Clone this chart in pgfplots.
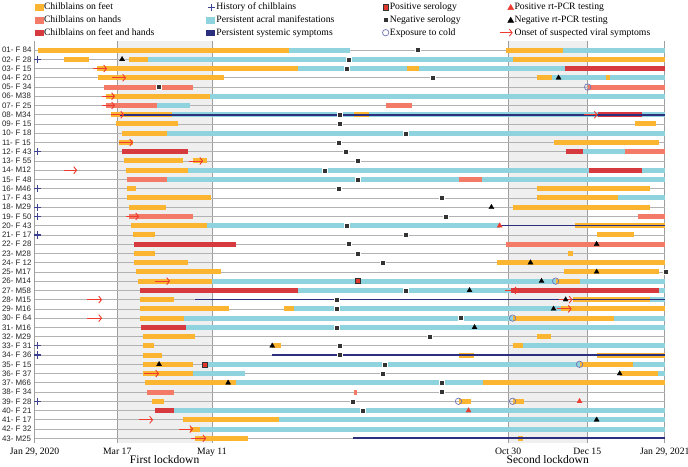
\documentclass[border=0pt]{standalone}
\usepackage{pgfplots}
\usepackage{pgfplotstable}
\pgfplotsset{compat=1.18}
\usepackage{fontspec}
\setmainfont{Liberation Serif}
\newfontfamily\rowfont{Liberation Sans}
\usetikzlibrary{arrows.meta}

\definecolor{cfeet}{HTML}{FBB531}
\definecolor{chands}{HTML}{F37A66}
\definecolor{cboth}{HTML}{D63A3E}
\definecolor{cacral}{HTML}{8FD3DE}
\definecolor{csys}{HTML}{2B2F7E}
\definecolor{cplus}{HTML}{3C4192}
\definecolor{cneg}{HTML}{333333}
\definecolor{cpos}{HTML}{E03A2E}
\definecolor{ccirc}{HTML}{7074B5}
\definecolor{carrow}{HTML}{EE3B2F}
\definecolor{cshade}{HTML}{EFEFEF}

% segments: start day, end day, row
\pgfplotstableread{
a b r
2 148 1
273.6 306.6 1
17.1 31.6 2
54.9 65.9 2
277.6 366 2
36.3 153.1 3
216.5 223.5 3
36.9 110.1 4
291.5 300.2 4
331.6 334 4
41.5 102 6
44.4 79.9 8
185.7 194.4 8
47.3 83.4 9
348.5 360.8 9
50.8 77 10
49.1 57.2 11
301.4 362.6 11
52 86.3 13
92.1 100.2 13
53.1 89.2 14
53.7 59 16
291.5 357.2 16
53.7 102.6 17
291.5 338.6 17
54.9 76.4 18
277.6 357.2 18
56 100.2 20
313.6 366 20
57.2 70 21
326.4 347.9 21
57.8 70 23
309.5 312.4 23
57.8 89.2 24
268.3 366 24
59 108.4 25
307.2 362.6 25
60.1 103.1 26
302.6 316.5 26
61.3 81 28
312.4 357.2 28
61.3 113 29
145 150.8 29
305.5 366 29
61.3 86.9 30
277.6 336.3 30
63 93.3 32
291.5 299.7 32
63 69.4 33
138 143.3 33
277.6 283.4 33
63 74.1 34
246.2 254.9 34
326.4 366 34
63 92.1 35
316.5 347.3 35
63 92.1 36
339.8 361.9 36
64.2 117.1 37
260.7 366 37
68.3 75.2 39
246.2 253.7 39
277.6 284.5 39
86.3 142.1 41
90.3 96.2 42
93.3 124.1 43
281 283.4 43
}\feet

\pgfplotstableread{
a b r
40.3 92.1 5
321.2 366 5
41.5 71.2 7
204.3 219.4 7
342.7 366 12
53.7 77 15
246.7 260.1 15
54.9 92.1 19
350.2 366 19
273.6 366 22
65.3 81 38
185.5 187.5 38
}\hands

\pgfplotstableread{
a b r
307.8 366 3
327 352.6 8
50.8 89.2 12
308.4 318.3 12
321.7 352.6 14
57.8 117.1 22
61.3 153.1 27
276.4 362.6 27
61.9 88 31
70 81 40
}\both

\pgfplotstableread{
a b r
148 183.4 1
306.6 366 1
65.9 277.6 2
153.1 216.5 3
223.5 307.8 3
300.2 331.6 4
334 366 4
102 366 6
71.2 90.3 7
79.9 185.7 8
194.4 327 8
352.6 366 8
77 366 10
318.3 342.7 12
89.2 321.7 14
352.6 366 14
77 246.7 15
260.1 366 15
338.6 366 17
100.2 270.1 20
103.1 302.6 26
316.5 366 26
153.1 276.4 27
362.6 366 27
357.2 366 28
150.8 305.5 29
86.9 277.6 30
336.3 366 30
88 366 31
283.4 366 33
97.3 316.5 35
347.3 366 35
92.1 122.3 36
361.9 366 36
117.1 260.7 37
81 366 40
142.1 366 41
96.2 366 42
}\acral

\pgfplotstableread{
a b r
49.7 366 8
270.1 366 20
93.3 366 28
138 366 34
185.1 366 43
}\systemic

\pgfplotstableread{
x r
1.8 2
1.8 12
1.8 16
1.8 18
1.8 19
1.8 21
1.8 33
1.8 34
1.8 39
}\history

\pgfplotstableread{
x r
222.3 1
182.2 2
181 3
231 4
72.3 5
177 8
177 9
215.3 10
176.4 11
180.5 12
187.4 13
168.3 14
187.4 15
176.4 16
236.3 17
238.6 19
181 20
215.3 21
182.2 22
187.4 23
202 24
366.5 25
215.3 27
175.2 28
175.2 29
247.3 30
175.2 31
229.3 32
177 33
177 34
203.1 35
202 36
236.3 37
236.3 38
184.5 39
190.3 40
}\negsero

\pgfplotstableread{
x r
187.4 26
99.1 35
}\possero

\pgfplotstableread{
x r
50.8 2
304.3 4
265.3 18
326.4 22
288 24
326.4 25
294.4 26
252.6 27
308.4 28
301.4 29
255.5 31
138 33
72.3 35
339.8 36
112.4 37
326.4 41
}\negpcr

\pgfplotstableread{
x r
270.1 20
316.5 39
252 40
}\pospcr

\pgfplotstableread{
x r
321.2 5
302.6 26
277.6 30
316.5 35
246.2 39
277.6 39
}\cold

\pgfplotstableread{
x r u
34 3 8.1
45 4 8.1
39.2 6 7.5
39.2 7 7.5
44.4 8 7.6
318.8 8 8.2
49.1 11 8.1
89.8 13 8.1
17.1 14 7.6
53.1 19 7.6
70 26 8.7
273 27 8
30.5 28 8.7
304.3 28 8.1
303.1 29 8.8
30.5 30 8.7
63.6 36 8.7
60.7 41 8.1
84 42 8.1
90.9 43 8.8
}\onset

\begin{document}
\begin{tikzpicture}
\begin{axis}[
  at={(34.6pt,-442.9pt)}, anchor=south west,
  scale only axis, width=630.2pt, height=402.1pt,
  xmin=0, xmax=366, ymin=0, ymax=43.5, y dir=reverse,
  clip=false, set layers,
  axis line style={draw=none}, tick style={draw=none}, major tick length=0pt,
  xtick={0,48,103,275,321,366},
  xticklabels={{Jan 29, 2020},{Mar 17},{May 11},{Oct 30},{Dec 15},{Jan 29, 2021}},
  xticklabel style={font=\fontsize{9.7}{11}\selectfont, anchor=base, inner sep=0pt, yshift=-11.1pt},
  ytick={1,...,43},
  yticklabels={{01- F 84},{02- F 28},{03- F 15},{04- F 20},{05- F 34},{06- M38},{07- F 25},{08- M34},{09- F 15},{10- F 18},{11- F 15},{12- F 43},{13- F 55},{14- M12},{15- F 48},{16- M46},{17- F 43},{18- M29},{19- F 50},{20- F 43},{21- F 17},{22- F 28},{23- M28},{24- F 12},{25- M17},{26- M14},{27- M58},{28- M15},{29- M16},{30- F 64},{31- M16},{32- M29},{33- F 31},{34- F 36},{35- F 15},{36- F 37},{37- M66},{38- F 34},{39- F 28},{40- F 21},{41- F 17},{42- F 32},{43- M25}},
  yticklabel style={font=\rowfont\fontsize{7.9}{9}\selectfont, anchor=west, inner sep=0pt, xshift=-32.8pt, text=black!85},
  xmajorgrids, ymajorgrids,
  x grid style={gray!75, line width=0.8pt},
  y grid style={gray!60, line width=0.7pt},
  legend columns=4,
  legend cell align=left,
  legend style={at={(axis description cs:-0.0073,1.0953)}, anchor=north west,
    draw=none, fill=none, inner sep=0pt, outer sep=0pt,
    font=\fontsize{9.7}{11}\selectfont,
    nodes={inner sep=0.6pt},
    row sep=3.2pt,
    /tikz/column 2/.style={column sep=46pt},
    /tikz/column 4/.style={column sep=40pt},
    /tikz/column 6/.style={column sep=38pt}},
  bar/.style={draw=none, mark=none, forget plot,
    error bars/.cd, x dir=plus, x explicit, error mark=none,
    error bar style={line width=5pt, draw=#1}},
]
% lockdown shading
\addplot[on layer=axis background, fill=cshade, draw=none, forget plot] coordinates {(48,0) (103,0) (103,43.5) (48,43.5)} -- cycle;
\addplot[on layer=axis background, fill=cshade, draw=none, forget plot] coordinates {(275,0) (321,0) (321,43.5) (275,43.5)} -- cycle;

% bars
\addplot[bar=cacral] table[x=a, y=r, x error expr=\thisrow{b}-\thisrow{a}] {\acral};
\addplot[bar=cfeet] table[x=a, y=r, x error expr=\thisrow{b}-\thisrow{a}] {\feet};
\addplot[bar=chands] table[x=a, y=r, x error expr=\thisrow{b}-\thisrow{a}] {\hands};
\addplot[bar=cboth] table[x=a, y=r, x error expr=\thisrow{b}-\thisrow{a}] {\both};
% systemic symptoms lines
\addplot[draw=none, mark=none, forget plot, error bars/.cd, x dir=plus, x explicit, error mark=none,
  error bar style={line width=1.6pt, draw=csys}] table[x=a, y=r, x error expr=\thisrow{b}-\thisrow{a}] {\systemic};

% markers
\addplot[only marks, forget plot, mark=+, mark size=3.6pt, mark options={draw=cplus, line width=1.2pt}] table[x=x, y=r] {\history};
\addplot[only marks, forget plot, mark=square*, mark size=2.5pt, mark options={fill=cneg, draw=white, line width=0.4pt}] table[x=x, y=r] {\negsero};
\addplot[only marks, forget plot, mark=square*, mark size=2.5pt, mark options={fill=cpos, draw=cneg, line width=0.5pt}] table[x=x, y=r] {\possero};
\addplot[only marks, forget plot, mark=triangle*, mark size=3pt, mark options={fill=black, draw=black, line width=0.2pt}] table[x=x, y=r] {\negpcr};
\addplot[only marks, forget plot, mark=triangle*, mark size=3pt, mark options={fill=carrow, draw=carrow, line width=0.2pt}] table[x=x, y=r] {\pospcr};
\addplot[only marks, forget plot, mark=o, mark size=3.2pt, mark options={draw=ccirc, line width=0.7pt}] table[x=x, y=r] {\cold};
\addplot[forget plot, carrow, line width=0.9pt, -{Straight Barb[length=2.8pt,width=7pt]}, quiver={u=\thisrow{u}, v=0}] table[x=x, y=r] {\onset};

% legend (row-wise, 4 columns)
\addlegendimage{legend image code/.code={\fill[cfeet] (5pt,-2.8pt) rectangle (13pt,2.8pt); \path (0pt,0pt) (13pt,0pt);}}
\addlegendentry{Chilblains on feet}
\addlegendimage{legend image code/.code={\draw[cplus, line width=1.1pt] (7pt,0pt) -- (14pt,0pt) (10.5pt,-3.5pt) -- (10.5pt,3.5pt); \path (0pt,0pt) (13pt,0pt);}}
\addlegendentry{History of chilblains}
\addlegendimage{legend image code/.code={\draw[fill=cpos, draw=cneg, line width=0.5pt] (8.5pt,-2.6pt) rectangle (13.5pt,2.6pt); \path (0pt,0pt) (13pt,0pt);}}
\addlegendentry{Positive serology}
\addlegendimage{legend image code/.code={\fill[carrow] (8pt,-2.4pt) -- (14pt,-2.4pt) -- (11pt,2.8pt) -- cycle; \path (0pt,0pt) (13pt,0pt);}}
\addlegendentry{Positive rt-PCR testing}
\addlegendimage{legend image code/.code={\fill[chands] (5pt,-2.8pt) rectangle (13pt,2.8pt); \path (0pt,0pt) (13pt,0pt);}}
\addlegendentry{Chilblains on hands}
\addlegendimage{legend image code/.code={\fill[cacral] (5pt,-2.8pt) rectangle (13pt,2.8pt); \path (0pt,0pt) (13pt,0pt);}}
\addlegendentry{Persistent acral manifestations}
\addlegendimage{legend image code/.code={\draw[fill=cneg, draw=white, line width=0.4pt] (8.5pt,-2.6pt) rectangle (13.5pt,2.6pt); \path (0pt,0pt) (13pt,0pt);}}
\addlegendentry{Negative serology}
\addlegendimage{legend image code/.code={\fill[black] (8pt,-2.4pt) -- (14pt,-2.4pt) -- (11pt,2.8pt) -- cycle; \path (0pt,0pt) (13pt,0pt);}}
\addlegendentry{Negative rt-PCR testing}
\addlegendimage{legend image code/.code={\fill[cboth] (5pt,-2.8pt) rectangle (13pt,2.8pt); \path (0pt,0pt) (13pt,0pt);}}
\addlegendentry{Chilblains on feet and hands}
\addlegendimage{legend image code/.code={\fill[csys] (5pt,-2.8pt) rectangle (13pt,2.8pt); \path (0pt,0pt) (13pt,0pt);}}
\addlegendentry{Persistent systemic symptoms}
\addlegendimage{legend image code/.code={\draw[ccirc, line width=0.7pt] (10.5pt,0pt) circle (3.2pt); \path (0pt,0pt) (13pt,0pt);}}
\addlegendentry{Exposure to cold}
\addlegendimage{legend image code/.code={\draw[carrow, line width=0.9pt, -{Straight Barb[length=2.8pt,width=7pt]}] (0pt,0pt) -- (13pt,0pt);}}
\addlegendentry{Onset of suspected viral symptoms}

\node[font=\fontsize{11.5}{12}\selectfont, anchor=base, inner sep=0pt] at (axis cs:75.5,45.75) {First lockdown};
\node[font=\fontsize{11.5}{12}\selectfont, anchor=base, inner sep=0pt] at (axis cs:298,45.75) {Second lockdown};
\end{axis}
\pgfresetboundingbox
\useasboundingbox (0,0) rectangle (688pt,-466pt);
\end{tikzpicture}
\end{document}
